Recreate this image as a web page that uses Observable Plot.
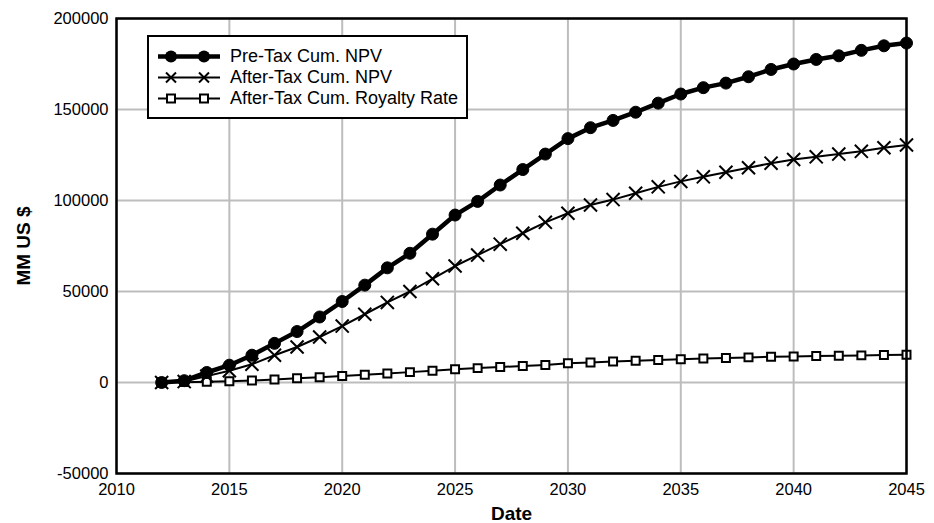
<!DOCTYPE html>
<html>
<head>
<meta charset="utf-8">
<script src="https://cdn.jsdelivr.net/npm/d3@7"></script>
<script src="https://cdn.jsdelivr.net/npm/@observablehq/plot@0.6"></script>
<style>
  html, body { margin: 0; padding: 0; background: #fff; }
  #wrap { position: relative; width: 934px; height: 523px; font-family: "Liberation Sans", Arial, sans-serif; }
  #legend { position: absolute; left: 147px; top: 35px; width: 317px; height: 80px; border: 2px solid #000; background: #fff; box-sizing: content-box; }
  #legend .row { display: flex; align-items: center; height: 21px; font-size: 18px; line-height: 21px; }
  #legend svg { margin-left: 9px; margin-right: 10px; }
</style>
</head>
<body>
<div id="wrap"></div>
<script>
const years = d3.range(2012, 2046);
const preTax = [0, 1000, 5500, 9500, 15000, 21500, 28000, 36000, 44500, 53500, 63000, 71000, 81500, 92000, 99500, 108500, 117000, 125500, 134000, 140000, 144000, 148500, 153500, 158500, 162000, 164500, 168000, 172000, 175000, 177500, 179500, 182500, 185000, 186500];
const afterTax = [0, 500, 3500, 6500, 10000, 15000, 19500, 25000, 31000, 37500, 44000, 50000, 57000, 64000, 70000, 76000, 82000, 88000, 93000, 97500, 100500, 104000, 107500, 110500, 113000, 115500, 118000, 120500, 122500, 124000, 125500, 127000, 129000, 130500];
const royalty = [0, 200, 400, 700, 1100, 1700, 2300, 2900, 3600, 4300, 5000, 5700, 6500, 7300, 7900, 8500, 9100, 9600, 10600, 11000, 11500, 12000, 12400, 12800, 13200, 13500, 13800, 14100, 14300, 14500, 14700, 14900, 15100, 15250];
const seriesNames = ["Pre-Tax Cum. NPV", "After-Tax Cum. NPV", "After-Tax Cum. Royalty Rate"];
const xTicks = [2010, 2015, 2020, 2025, 2030, 2035, 2040, 2045];
const yTicks = [-50000, 0, 50000, 100000, 150000, 200000];

const pre = years.map((y, i) => ({year: y, value: preTax[i]}));
const aft = years.map((y, i) => ({year: y, value: afterTax[i]}));
const roy = years.map((y, i) => ({year: y, value: royalty[i]}));

const chart = Plot.plot({
  width: 934,
  height: 523,
  marginLeft: 116,
  marginRight: 28,
  marginTop: 18,
  marginBottom: 50,
  style: {fontFamily: "Liberation Sans, Arial, sans-serif", fontSize: "16.5px", color: "#000", background: "#fff"},
  x: {domain: [2010, 2045], ticks: xTicks, tickFormat: d => String(d), tickSize: 0, tickPadding: 10, label: "Date", labelArrow: "none", labelAnchor: "center", labelOffset: 46},
  y: {domain: [-50000, 200000], ticks: yTicks, tickFormat: d => String(d), tickSize: 0, tickPadding: 8, label: "MM US $", labelArrow: "none", labelAnchor: "center", labelOffset: 100},
  marks: [
    Plot.gridX(xTicks, {stroke: "#bdbdbd", strokeOpacity: 1, strokeWidth: 2}),
    Plot.gridY(yTicks, {stroke: "#bdbdbd", strokeOpacity: 1, strokeWidth: 2}),
    Plot.line(roy, {x: "year", y: "value", stroke: "#000", strokeWidth: 2}),
    Plot.dot(roy, {x: "year", y: "value", symbol: "square", r: 4.5, fill: "#fff", stroke: "#000", strokeWidth: 2}),
    Plot.line(aft, {x: "year", y: "value", stroke: "#000", strokeWidth: 2}),
    Plot.dot(aft, {x: "year", y: "value", symbol: "times", r: 6, stroke: "#000", strokeWidth: 2}),
    Plot.line(pre, {x: "year", y: "value", stroke: "#000", strokeWidth: 4.5}),
    Plot.dot(pre, {x: "year", y: "value", symbol: "circle", r: 6, fill: "#000", stroke: "#000", strokeWidth: 1}),
    Plot.frame({stroke: "#000", strokeWidth: 2.5})
  ]
});

// axis label styling
d3.select(chart).selectAll("[aria-label='x-axis label'] text, [aria-label='y-axis label'] text")
  .style("font-weight", "bold").style("font-size", "19px");

const wrap = document.getElementById("wrap");
wrap.appendChild(chart);

// legend
const legend = document.createElement("div");
legend.id = "legend";
const symbols = [
  `<line x1="0" y1="10.5" x2="62" y2="10.5" stroke="#000" stroke-width="4.5"/><circle cx="13" cy="10.5" r="6" fill="#000"/><circle cx="46" cy="10.5" r="6" fill="#000"/>`,
  `<line x1="0" y1="10.5" x2="62" y2="10.5" stroke="#000" stroke-width="2"/><path d="M8,5.5 L18,15.5 M18,5.5 L8,15.5 M41,5.5 L51,15.5 M51,5.5 L41,15.5" stroke="#000" stroke-width="2"/>`,
  `<line x1="0" y1="10.5" x2="62" y2="10.5" stroke="#000" stroke-width="2"/><rect x="9" y="6.5" width="8" height="8" fill="#fff" stroke="#000" stroke-width="2"/><rect x="42" y="6.5" width="8" height="8" fill="#fff" stroke="#000" stroke-width="2"/>`
];
let html = `<div style="padding-top:9px">`;
seriesNames.forEach((n, i) => {
  html += `<div class="row"><svg width="62" height="21">${symbols[i]}</svg><span>${n}</span></div>`;
});
html += `</div>`;
legend.innerHTML = html;
wrap.appendChild(legend);
</script>
</body>
</html>
